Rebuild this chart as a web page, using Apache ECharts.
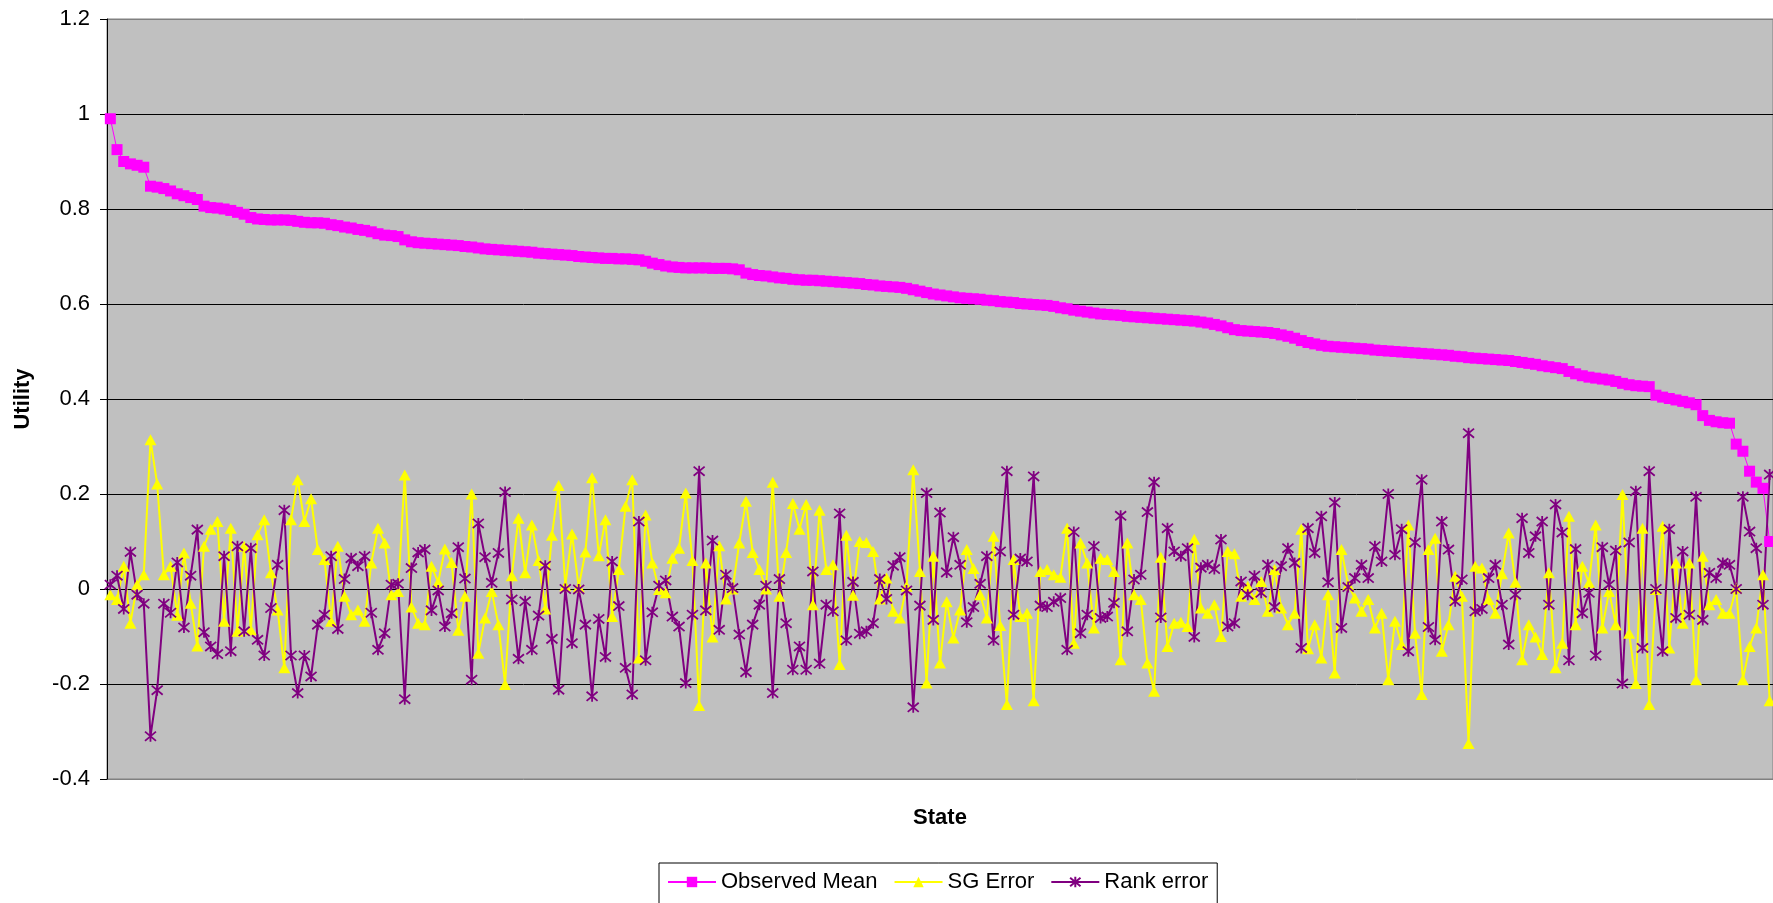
<!DOCTYPE html>
<html>
<head>
<meta charset="utf-8">
<script src="https://cdn.jsdelivr.net/npm/echarts/dist/echarts.min.js"></script>
<style>
html,body{margin:0;padding:0;background:#fff;overflow:hidden}
#chart{width:1773px;height:903px}
</style>
</head>
<body>
<div id="chart"></div>
<script>
// ---- data ----
const observedMean = [
  0.990, 0.925, 0.900, 0.895, 0.892, 0.888, 0.848, 0.846, 0.843, 0.838,
  0.832, 0.828, 0.824, 0.820, 0.806, 0.803, 0.802, 0.800, 0.797, 0.793,
  0.789, 0.782, 0.779, 0.778, 0.777, 0.777, 0.777, 0.776, 0.774, 0.772,
  0.771, 0.771, 0.770, 0.767, 0.765, 0.762, 0.760, 0.757, 0.755, 0.752,
  0.748, 0.745, 0.744, 0.742, 0.735, 0.731, 0.729, 0.728, 0.727, 0.726,
  0.725, 0.724, 0.723, 0.721, 0.720, 0.718, 0.716, 0.715, 0.714, 0.713,
  0.712, 0.711, 0.710, 0.709, 0.707, 0.706, 0.705, 0.704, 0.703, 0.702,
  0.700, 0.699, 0.698, 0.697, 0.696, 0.696, 0.695, 0.695, 0.694, 0.693,
  0.690, 0.686, 0.683, 0.680, 0.678, 0.677, 0.676, 0.676, 0.676, 0.676,
  0.675, 0.675, 0.675, 0.674, 0.672, 0.665, 0.662, 0.660, 0.659, 0.657,
  0.655, 0.654, 0.652, 0.651, 0.650, 0.650, 0.649, 0.648, 0.647, 0.646,
  0.645, 0.644, 0.643, 0.641, 0.640, 0.638, 0.637, 0.636, 0.635, 0.633,
  0.630, 0.627, 0.624, 0.621, 0.619, 0.617, 0.615, 0.613, 0.612, 0.611,
  0.610, 0.608, 0.607, 0.605, 0.604, 0.603, 0.601, 0.600, 0.599, 0.598,
  0.597, 0.595, 0.592, 0.590, 0.587, 0.585, 0.583, 0.581, 0.579, 0.578,
  0.577, 0.576, 0.574, 0.573, 0.572, 0.571, 0.570, 0.569, 0.568, 0.567,
  0.566, 0.565, 0.564, 0.562, 0.560, 0.557, 0.554, 0.550, 0.546, 0.544,
  0.543, 0.542, 0.541, 0.540, 0.538, 0.535, 0.532, 0.528, 0.523, 0.519,
  0.516, 0.513, 0.511, 0.510, 0.509, 0.508, 0.507, 0.506, 0.505, 0.503,
  0.502, 0.501, 0.500, 0.499, 0.498, 0.497, 0.496, 0.495, 0.494, 0.493,
  0.492, 0.490, 0.489, 0.487, 0.486, 0.485, 0.484, 0.483, 0.482, 0.481,
  0.479, 0.477, 0.475, 0.473, 0.470, 0.468, 0.466, 0.464, 0.458, 0.453,
  0.449, 0.446, 0.444, 0.442, 0.440, 0.437, 0.433, 0.430, 0.428, 0.427,
  0.426, 0.408, 0.404, 0.401, 0.398, 0.395, 0.392, 0.388, 0.365, 0.355,
  0.352, 0.350, 0.349, 0.305, 0.290, 0.248, 0.225, 0.212, 0.100
];

const sgError = [
  -0.012, -0.022, 0.048, -0.072, 0.009, 0.030, 0.314, 0.221, 0.030, 0.048,
  -0.055, 0.076, -0.030, -0.120, 0.090, 0.126, 0.142, -0.068, 0.128, -0.089,
  0.090, -0.086, 0.114, 0.146, 0.034, -0.044, -0.166, 0.146, 0.230, 0.142,
  0.190, 0.083, 0.062, -0.068, 0.090, -0.015, -0.054, -0.044, -0.068, 0.055,
  0.128, 0.097, -0.012, -0.005, 0.240, -0.038, -0.072, -0.075, 0.048, 0.014,
  0.084, 0.056, -0.087, -0.015, 0.200, -0.135, -0.061, -0.005, -0.075, -0.201,
  0.028, 0.149, 0.034, 0.135, 0.060, -0.042, 0.113, 0.218, 0.007, 0.116,
  0.004, 0.078, 0.234, 0.070, 0.146, -0.058, 0.041, 0.174, 0.230, -0.145,
  0.156, 0.055, -0.001, -0.008, 0.065, 0.086, 0.202, 0.060, -0.245, 0.055,
  -0.101, 0.091, -0.021, 0.000, 0.097, 0.185, 0.077, 0.041, 0.000, 0.225,
  -0.015, 0.077, 0.180, 0.126, 0.178, -0.033, 0.166, 0.041, 0.051, -0.159,
  0.113, -0.013, 0.100, 0.098, 0.079, -0.021, 0.023, -0.047, -0.061, 0.006,
  0.251, 0.037, -0.198, 0.069, -0.156, -0.027, -0.103, -0.044, 0.083, 0.043,
  -0.012, -0.061, 0.111, -0.077, -0.243, 0.062, -0.058, -0.051, -0.235, 0.037,
  0.041, 0.030, 0.025, 0.128, -0.114, 0.097, 0.055, -0.082, 0.065, 0.062,
  0.037, -0.149, 0.097, -0.012, -0.022, -0.156, -0.215, 0.067, -0.121, -0.072,
  -0.070, -0.079, 0.105, -0.040, -0.051, -0.033, -0.100, 0.079, 0.074, -0.015,
  0.006, -0.022, 0.016, -0.047, 0.041, -0.040, -0.075, -0.051, 0.126, -0.126,
  -0.075, -0.145, -0.012, -0.177, 0.083, 0.009, -0.019, -0.047, -0.022, -0.082,
  -0.051, -0.191, -0.068, -0.117, 0.135, -0.093, -0.222, 0.083, 0.107, -0.131,
  -0.075, 0.027, -0.015, -0.325, 0.048, 0.044, -0.022, -0.051, 0.032, 0.118,
  0.014, -0.149, -0.075, -0.101, -0.138, 0.034, -0.166, -0.114, 0.153, -0.075,
  0.048, 0.013, 0.135, -0.082, -0.005, -0.075, 0.199, -0.093, -0.199, 0.128,
  -0.243, -0.001, 0.132, -0.124, 0.055, -0.072, 0.055, -0.191, 0.069, -0.033,
  -0.022, -0.051, -0.051, 0.002, -0.191, -0.121, -0.082, 0.030, -0.235
];

const rankError = [
  0.009, 0.028, -0.042, 0.078, -0.012, -0.031, -0.310, -0.213, -0.031, -0.050,
  0.056, -0.081, 0.028, 0.125, -0.091, -0.121, -0.137, 0.069, -0.131, 0.090,
  -0.089, 0.086, -0.107, -0.140, -0.040, 0.051, 0.166, -0.140, -0.219, -0.140,
  -0.184, -0.075, -0.054, 0.069, -0.084, 0.021, 0.065, 0.048, 0.069, -0.050,
  -0.128, -0.093, 0.009, 0.011, -0.232, 0.044, 0.077, 0.083, -0.045, -0.003,
  -0.079, -0.051, 0.088, 0.022, -0.191, 0.138, 0.067, 0.013, 0.076, 0.204,
  -0.022, -0.147, -0.026, -0.128, -0.056, 0.049, -0.105, -0.212, 0.000, -0.114,
  -0.001, -0.075, -0.226, -0.063, -0.143, 0.058, -0.036, -0.166, -0.222, 0.142,
  -0.150, -0.049, 0.007, 0.018, -0.058, -0.079, -0.198, -0.054, 0.248, -0.045,
  0.102, -0.086, 0.030, 0.002, -0.096, -0.175, -0.075, -0.033, 0.007, -0.219,
  0.021, -0.072, -0.170, -0.121, -0.170, 0.037, -0.157, -0.033, -0.047, 0.159,
  -0.108, 0.015, -0.094, -0.089, -0.072, 0.021, -0.021, 0.049, 0.067, -0.003,
  -0.249, -0.035, 0.202, -0.065, 0.161, 0.035, 0.109, 0.051, -0.070, -0.038,
  0.011, 0.069, -0.108, 0.079, 0.248, -0.054, 0.064, 0.058, 0.237, -0.035,
  -0.038, -0.027, -0.019, -0.128, 0.120, -0.093, -0.054, 0.090, -0.061, -0.058,
  -0.029, 0.154, -0.089, 0.020, 0.030, 0.162, 0.225, -0.060, 0.128, 0.079,
  0.069, 0.086, -0.101, 0.045, 0.051, 0.042, 0.104, -0.079, -0.072, 0.016,
  -0.012, 0.028, -0.008, 0.051, -0.038, 0.048, 0.086, 0.055, -0.124, 0.128,
  0.076, 0.153, 0.014, 0.182, -0.082, 0.004, 0.023, 0.051, 0.023, 0.090,
  0.058, 0.200, 0.072, 0.126, -0.131, 0.098, 0.230, -0.080, -0.107, 0.142,
  0.083, -0.026, 0.020, 0.328, -0.047, -0.042, 0.023, 0.051, -0.033, -0.117,
  -0.012, 0.149, 0.076, 0.111, 0.142, -0.033, 0.178, 0.119, -0.150, 0.084,
  -0.051, -0.008, -0.140, 0.088, 0.009, 0.081, -0.199, 0.098, 0.206, -0.124,
  0.248, 0.000, -0.131, 0.126, -0.061, 0.079, -0.054, 0.194, -0.065, 0.034,
  0.023, 0.055, 0.051, 0.000, 0.194, 0.121, 0.086, -0.033, 0.241
];

const states = observedMean.map((_, i) => String(i + 1));
const seriesNames = ['Observed Mean', 'SG Error', 'Rank error'];
const yMin = -0.4, yMax = 1.2, yStep = 0.2;

// ---- chart ----
const FONT = '"Liberation Sans", Arial, sans-serif';
const chart = echarts.init(document.getElementById('chart'), null, {renderer: 'canvas'});
const asterisk = 'path://M0,0L10,10M10,0L0,10M5,-1L5,11';

chart.setOption({
  animation: false,
  backgroundColor: '#ffffff',
  textStyle: {fontFamily: FONT, color: '#000'},
  grid: {
    left: 107, top: 19, width: 1668, height: 760,
    show: true, backgroundColor: '#C0C0C0',
    borderColor: '#808080', borderWidth: 1
  },
  legend: {
    data: seriesNames,
    left: 659, top: 863,
    orient: 'horizontal',
    itemWidth: 48, itemHeight: 13, itemGap: 16,
    padding: [8, 9, 14, 8],
    borderColor: '#000', borderWidth: 1,
    backgroundColor: '#fff',
    textStyle: {fontFamily: FONT, fontSize: 22, color: '#000'}
  },
  xAxis: {
    type: 'category',
    data: states,
    boundaryGap: true,
    name: 'State',
    nameLocation: 'middle',
    nameGap: 28,
    nameTextStyle: {fontFamily: FONT, fontSize: 22, fontWeight: 'bold', color: '#000'},
    axisLine: {show: false},
    axisTick: {show: false},
    axisLabel: {show: false},
    splitLine: {show: false}
  },
  yAxis: {
    type: 'value',
    min: yMin, max: yMax, interval: yStep,
    name: 'Utility',
    nameLocation: 'middle',
    nameGap: 73,
    nameTextStyle: {fontFamily: FONT, fontSize: 22, fontWeight: 'bold', color: '#000'},
    axisLine: {show: true, lineStyle: {color: '#000', width: 1}},
    axisTick: {show: true, length: 7, lineStyle: {color: '#000'}},
    axisLabel: {
      margin: 17, fontFamily: FONT, fontSize: 22, color: '#000',
      formatter: v => String(+v.toFixed(1))
    },
    splitLine: {
      show: true,
      lineStyle: {color: ['#808080', '#000', '#000', '#000', '#000', '#000', '#000', '#000', '#808080'], width: 1}
    }
  },
  series: [
    {
      name: seriesNames[0], type: 'line', data: observedMean,
      symbol: 'rect', symbolSize: 11, showAllSymbol: true,
      lineStyle: {color: '#FF00FF', width: 1},
      itemStyle: {color: '#FF00FF'},
      emphasis: {disabled: true}
    },
    {
      name: seriesNames[1], type: 'line', data: sgError,
      symbol: 'triangle', symbolSize: [12, 11], showAllSymbol: true,
      lineStyle: {color: '#FFFF00', width: 2},
      itemStyle: {color: '#FFFF00'},
      emphasis: {disabled: true}
    },
    {
      name: seriesNames[2], type: 'line', data: rankError,
      symbol: asterisk, symbolSize: 11, showAllSymbol: true,
      lineStyle: {color: '#800080', width: 2},
      itemStyle: {color: '#800080', borderColor: '#800080', borderWidth: 1.8},
      emphasis: {disabled: true}
    }
  ]
});
</script>
</body>
</html>
